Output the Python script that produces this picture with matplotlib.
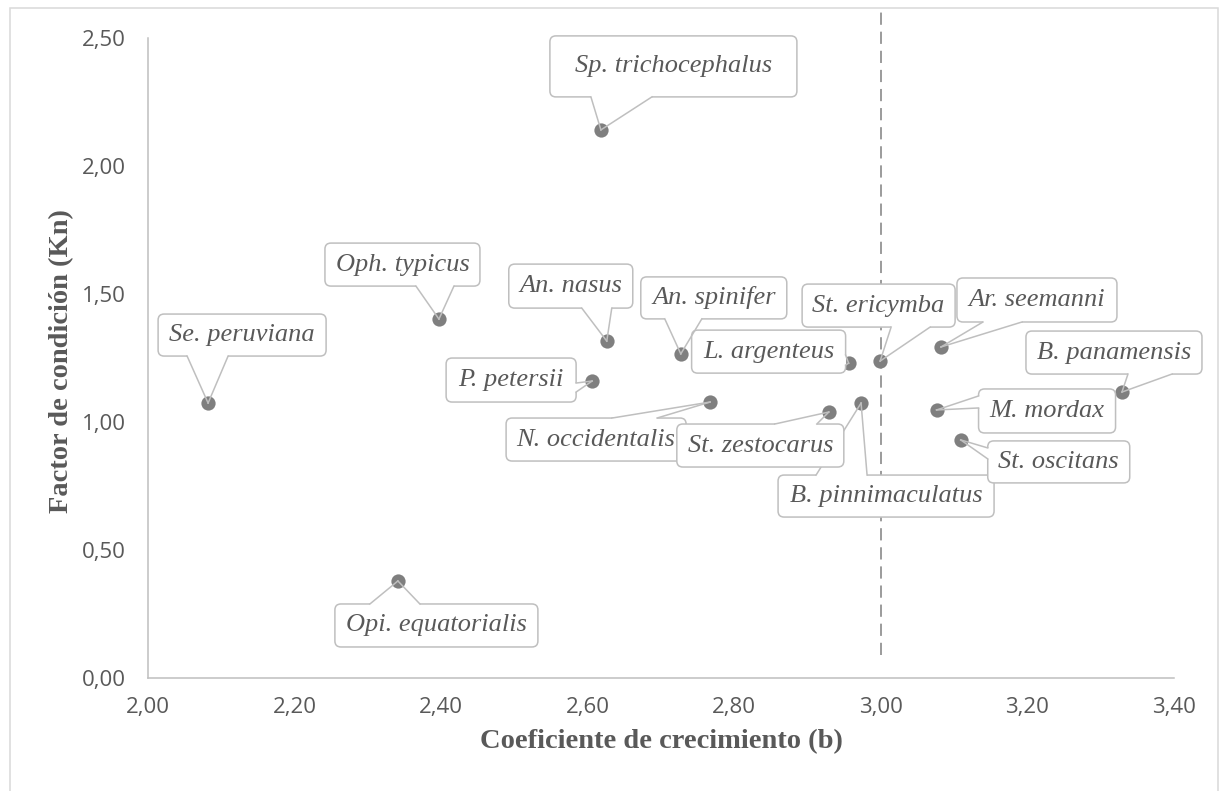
import matplotlib
matplotlib.use("Agg")
import matplotlib.pyplot as plt
from matplotlib.patches import FancyBboxPatch, Polygon, Rectangle
from matplotlib.lines import Line2D
from matplotlib.transforms import IdentityTransform
import numpy as np

# ---------------- data ----------------
species = ["Se. peruviana", "Oph. typicus", "Sp. trichocephalus", "An. nasus",
           "P. petersii", "L. argenteus", "An. spinifer", "N. occidentalis",
           "B. pinnimaculatus", "St. zestocarus", "St. ericymba", "Ar. seemanni",
           "B. panamensis", "M. mordax", "St. oscitans", "Opi. equatorialis"]
b_values = [2.082, 2.397, 2.618, 2.626, 2.606, 2.956, 2.727, 2.767,
            2.973, 2.929, 2.999, 3.082, 3.329, 3.076, 3.109, 2.341]
kn_values = [1.074, 1.402, 2.141, 1.316, 1.160, 1.230, 1.266, 1.078,
             1.074, 1.039, 1.238, 1.293, 1.117, 1.047, 0.930, 0.379]
x_ticks = [2.00, 2.20, 2.40, 2.60, 2.80, 3.00, 3.20, 3.40]
y_ticks = [0.00, 0.50, 1.00, 1.50, 2.00, 2.50]
ref_b = 3.00                 # isometric growth reference line
ref_line_kn = [0.09, 2.60]   # vertical extent of the reference line

# ---------------- layout of callouts (pixel offsets from the point, image y-down) ----
# (left, right, top, bottom, wedge side, base start, base end)
callout_layout = [
    (-50, 118, -89, -47, "bottom", -21, 20),
    (-114, 41, -76, -33, "bottom", -23, 15),
    (-51, 196, -94, -33, "bottom", -10, 51),
    (-98, 26, -77, -33, "bottom", -25, 5),
    (-146, -16, -23, 21, "right", 2, 11),
    (-157, -3, -33, 10, "right", -8, 2),
    (-40, 106, -77, -35, "bottom", -16, 21),
    (-204, -24, 16, 59, "top", -98, -53),
    (-83, 133, 72, 114, "top", -45, 6),
    (-152, 15, 12, 55, "top", -54, -12),
    (-78, 75, -77, -34, "bottom", 11, 50),
    (16, 176, -69, -25, "bottom", 42, 81),
    (-96, 80, -61, -18, "bottom", 6, 50),
    (42, 179, -21, 23, "left", -14, -2),
    (27, 169, 1, 43, "left", 8, 19),
    (-63, 140, 23, 66, "top", -28, 22),
]

TEXT = "#595959"
EDGE = "#bfbfbf"
MARK = "#7f7f7f"

W, H = 1226, 791
fig = plt.figure(figsize=(W / 100, H / 100), dpi=100)
fig.patch.set_facecolor("white")

# outer chart border
fig.add_artist(Rectangle((10 / W, -0.05), 1208 / W, 0.05 + (H - 8) / H,
                         transform=fig.transFigure, fill=False,
                         edgecolor="#d9d9d9", linewidth=1.1))

ax = fig.add_axes([148 / W, (H - 678) / H, (1174 - 148) / W, (678 - 38) / H])
ax.set_xlim(2.0, 3.4)
ax.set_ylim(0.0, 2.5)
for s in ["top", "right"]:
    ax.spines[s].set_visible(False)
for s in ["left", "bottom"]:
    ax.spines[s].set_color(EDGE)
    ax.spines[s].set_linewidth(1.1)

ax.set_xticks(x_ticks)
ax.set_xticklabels([f"{v:.2f}".replace(".", ",") for v in x_ticks])
ax.set_yticks(y_ticks)
ax.set_yticklabels([f"{v:.2f}".replace(".", ",") for v in y_ticks])
ax.tick_params(axis="both", length=0, labelsize=16, labelcolor=TEXT)
ax.tick_params(axis="x", pad=14)
ax.tick_params(axis="y", pad=16)
for lab in ax.get_xticklabels() + ax.get_yticklabels():
    lab.set_family("Open Sans")

# points
ax.scatter(b_values, kn_values, s=105, color=MARK, zorder=2.5, linewidths=0)

# reference dashed line
ax.plot([ref_b, ref_b], ref_line_kn, color="#808080", lw=1.1,
        linestyle=(0, (8, 4.5)), clip_on=False, zorder=50)

# axis titles
fig.text(661 / W, 1 - 742 / H, "Coeficiente de crecimiento (b)", ha="center",
         va="center", fontsize=20.5, fontweight="bold", family="Liberation Serif",
         color=TEXT)
fig.text(62 / W, 1 - 361 / H, "Factor de condición (Kn)", ha="center",
         va="center", rotation=90, fontsize=20.5, fontweight="bold",
         family="Liberation Serif", color=TEXT)

# callouts
ident = IdentityTransform()
pts = ax.transData.transform(np.column_stack([b_values, kn_values]))
for i, (label, (px, py), lay) in enumerate(zip(species, pts, callout_layout)):
    L, R, T, B, side, s0, s1 = lay
    z = 3 + i
    x0, x1 = px + L, px + R
    ytop, ybot = py - T, py - B
    r = 6
    box = FancyBboxPatch((x0 + r, ybot + r), (x1 - x0) - 2 * r, (ytop - ybot) - 2 * r,
                         boxstyle=f"round,pad={r}", transform=ident,
                         facecolor="white", edgecolor=EDGE, linewidth=1.1, zorder=z)
    fig.add_artist(box)
    tip = np.array([px, py])
    if side == "bottom":
        b0, b1 = np.array([px + s0, ybot]), np.array([px + s1, ybot]); inw = np.array([0, 3])
    elif side == "top":
        b0, b1 = np.array([px + s0, ytop]), np.array([px + s1, ytop]); inw = np.array([0, -3])
    elif side == "left":
        b0, b1 = np.array([x0, py - s0]), np.array([x0, py - s1]); inw = np.array([3, 0])
    else:
        b0, b1 = np.array([x1, py - s0]), np.array([x1, py - s1]); inw = np.array([-3, 0])
    f = 0.12
    poly = Polygon([b0 + inw, b0, b0 + f * (tip - b0), b1 + f * (tip - b1), b1, b1 + inw],
                   closed=True, transform=ident, facecolor="white", edgecolor="none",
                   zorder=z + 0.1)
    fig.add_artist(poly)
    for bb in (b0, b1):
        fig.add_artist(Line2D([bb[0], tip[0]], [bb[1], tip[1]], transform=ident,
                              color=EDGE, linewidth=1.1, zorder=z + 0.2))
    fig.text((x0 + x1) / 2 / W, (ytop + ybot) / 2 / H, label, ha="center", va="center",
             fontsize=19, style="italic", family="Liberation Serif", color=TEXT,
             zorder=z + 0.3)

fig.savefig("out.png", dpi=100, facecolor="white")
